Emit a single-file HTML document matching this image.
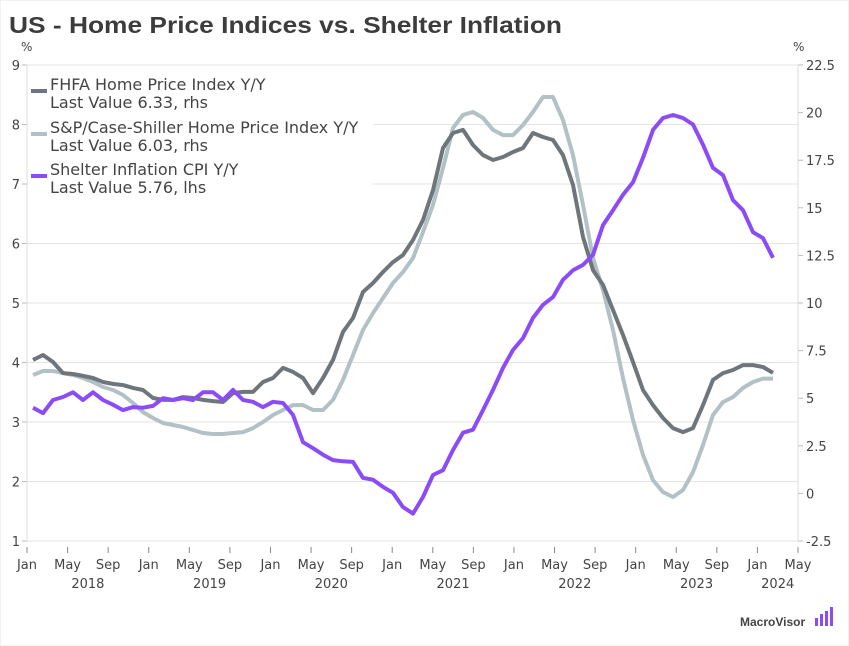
<!DOCTYPE html>
<html><head><meta charset="utf-8"><style>
body{margin:0;background:#fff;}
svg{display:block;font-family:"DejaVu Sans","Liberation Sans",sans-serif;}
</style></head><body>
<svg id="chart" width="849" height="646" viewBox="0 0 849 646" xmlns="http://www.w3.org/2000/svg">
<rect x="0" y="0" width="849" height="646" fill="#fff" stroke="#e6e6e6"/>
<text x="9" y="33" font-family="Liberation Sans, sans-serif" font-weight="bold" font-size="23" fill="#3c3c3c" textLength="553" lengthAdjust="spacingAndGlyphs">US - Home Price Indices vs. Shelter Inflation</text>
<text x="21" y="51" font-size="12" fill="#444">%</text>
<text x="793" y="51" font-size="12" fill="#444">%</text>
<g id="grid"></g>
<g id="axes"></g>
<g id="series"></g>
<g>
<rect x="28" y="72" width="345" height="124" fill="#fff" fill-opacity="0.9"/>
<g>
<rect x="31" y="89" width="16" height="4" fill="#6f767b"/>
<text x="50" y="90" font-size="16" fill="#444">FHFA Home Price Index Y/Y</text>
<text x="50" y="108" font-size="16" fill="#444">Last Value 6.33, rhs</text>
</g>
<g>
<rect x="31" y="132" width="16" height="4" fill="#b1c1c6"/>
<text x="50" y="133" font-size="16" fill="#444">S&amp;P/Case-Shiller Home Price Index Y/Y</text>
<text x="50" y="151" font-size="16" fill="#444">Last Value 6.03, rhs</text>
</g>
<g>
<rect x="31" y="174" width="16" height="4" fill="#8b4cf7"/>
<text x="50" y="175" font-size="16" fill="#444">Shelter Inflation CPI Y/Y</text>
<text x="50" y="193" font-size="16" fill="#444">Last Value 5.76, lhs</text>
</g>
</g>
<g>
<text x="740" y="626" font-family="Liberation Sans, sans-serif" font-weight="bold" font-size="12" fill="#444">MacroVisor</text>
<rect x="815" y="618" width="3" height="8" fill="#8b4cf7"/><rect x="820" y="614" width="3" height="12" fill="#8b4cf7"/><rect x="825" y="611" width="3" height="15" fill="#8b4cf7"/><rect x="830" y="607" width="3" height="19" fill="#8b4cf7"/>
</g>
</svg>
<script>
const shelter=[3.24,3.15,3.37,3.42,3.50,3.37,3.50,3.37,3.29,3.20,3.25,3.24,3.27,3.40,3.37,3.40,3.37,3.50,3.50,3.37,3.54,3.37,3.34,3.25,3.34,3.32,3.12,2.66,2.56,2.45,2.36,2.34,2.33,2.06,2.03,1.91,1.81,1.57,1.46,1.74,2.11,2.19,2.53,2.82,2.87,3.20,3.54,3.91,4.21,4.41,4.75,4.97,5.10,5.39,5.55,5.64,5.81,6.31,6.56,6.82,7.03,7.44,7.91,8.11,8.16,8.11,8.00,7.66,7.27,7.15,6.73,6.56,6.19,6.09,5.76];
const fhfa=[7.01,7.27,6.90,6.32,6.27,6.17,6.06,5.85,5.75,5.69,5.54,5.43,5.01,4.91,4.91,5.06,5.01,4.91,4.85,4.80,5.27,5.33,5.33,5.85,6.06,6.59,6.38,6.06,5.27,6.06,7.01,8.48,9.21,10.58,11.05,11.63,12.15,12.52,13.31,14.36,15.93,18.14,18.93,19.09,18.30,17.77,17.51,17.67,17.93,18.14,18.93,18.72,18.56,17.77,16.20,13.47,11.73,10.95,9.63,8.32,6.90,5.43,4.64,3.96,3.43,3.22,3.43,4.64,5.96,6.32,6.48,6.74,6.74,6.64,6.33];
const caseShiller=[6.22,6.43,6.43,6.32,6.22,6.06,5.85,5.59,5.43,5.17,4.75,4.27,3.96,3.70,3.59,3.49,3.33,3.17,3.12,3.12,3.17,3.22,3.43,3.75,4.12,4.38,4.64,4.64,4.38,4.38,4.91,5.96,7.27,8.58,9.47,10.26,11.05,11.63,12.36,13.73,15.15,17.09,19.19,19.88,20.03,19.72,19.09,18.82,18.82,19.35,20.03,20.82,20.82,19.61,17.77,15.15,12.36,10.68,8.58,6.06,3.85,2.02,0.70,0.07,-0.19,0.18,1.12,2.54,4.12,4.80,5.06,5.54,5.85,6.03,6.03];
const leftTicks=[1,2,3,4,5,6,7,8,9];
const rightTicks=[-2.5,0,2.5,5,7.5,10,12.5,15,17.5,20,22.5];
const monthLabels=["Jan","May","Sep"];
const yearLabels=["2018","2019","2020","2021","2022","2023","2024"];
const NS="http://www.w3.org/2000/svg";
const X0=27,X1=798,MONTHS=76,YT=65,YB=541;
const xm=m=>X0+(X1-X0)*m/MONTHS;
const yl=v=>YB-(v-1)/8*(YB-YT);
const yr=v=>YB-(v+2.5)/25*(YB-YT);
function mk(tag,attrs,parent){const e=document.createElementNS(NS,tag);for(const k in attrs)e.setAttribute(k,attrs[k]);parent.appendChild(e);return e;}
const grid=document.getElementById('grid'),axes=document.getElementById('axes'),series=document.getElementById('series');
leftTicks.forEach(v=>{
 const g=mk('line',{x1:X0,x2:X1,y1:yl(v),y2:yl(v),stroke:'#e4e4e4','stroke-width':1},grid);
 
 
 const t=mk('text',{x:20,y:yl(v)+5,'font-size':13,fill:'#444','text-anchor':'end'},axes);t.textContent=v;
 
 
 mk('line',{x1:X0-5,x2:X0,y1:yl(v),y2:yl(v),stroke:'#bbb'},axes);
});
rightTicks.forEach(v=>{
 const t=mk('text',{x:806,y:yr(v)+5,'font-size':13,fill:'#444'},axes);t.textContent=v;
 
 
 mk('line',{x1:X1,x2:X1+5,y1:yr(v),y2:yr(v),stroke:'#bbb'},axes);
});
mk('line',{x1:X0,x2:X0,y1:YT,y2:YB,stroke:'#ddd'},axes);
mk('line',{x1:X1,x2:X1,y1:YT,y2:YB,stroke:'#ddd'},axes);
for(let m=0;m<=MONTHS;m+=4){
 mk('line',{x1:xm(m),x2:xm(m),y1:YB+6,y2:YB+12,stroke:'#888'},axes);
 const t=mk('text',{x:xm(m),y:YB+28,'font-size':13,fill:'#444','text-anchor':'middle'},axes);t.textContent=monthLabels[(m/4)%3];
 
 
}
yearLabels.forEach((y,i)=>{
 const m=i<6?i*12+6:74;
 const t=mk('text',{x:xm(m),y:YB+47,'font-size':13,fill:'#444','text-anchor':'middle'},axes);t.textContent=y;
 
 
});
function line(data,yf,color,name){
 const d=data.map((v,i)=>(i?'L':'M')+xm((6+10*i)/10.145).toFixed(1)+','+yf(v).toFixed(1)).join('');
 const p=mk('path',{d:d,fill:'none',stroke:color,'stroke-width':4,'stroke-linejoin':'round'},series);
 
 
}
line(caseShiller,yr,'#b1c1c6','case-shiller-line');
line(fhfa,yr,'#6f767b','fhfa-line');
line(shelter,yl,'#8b4cf7','shelter-line');
</script>
</body></html>
